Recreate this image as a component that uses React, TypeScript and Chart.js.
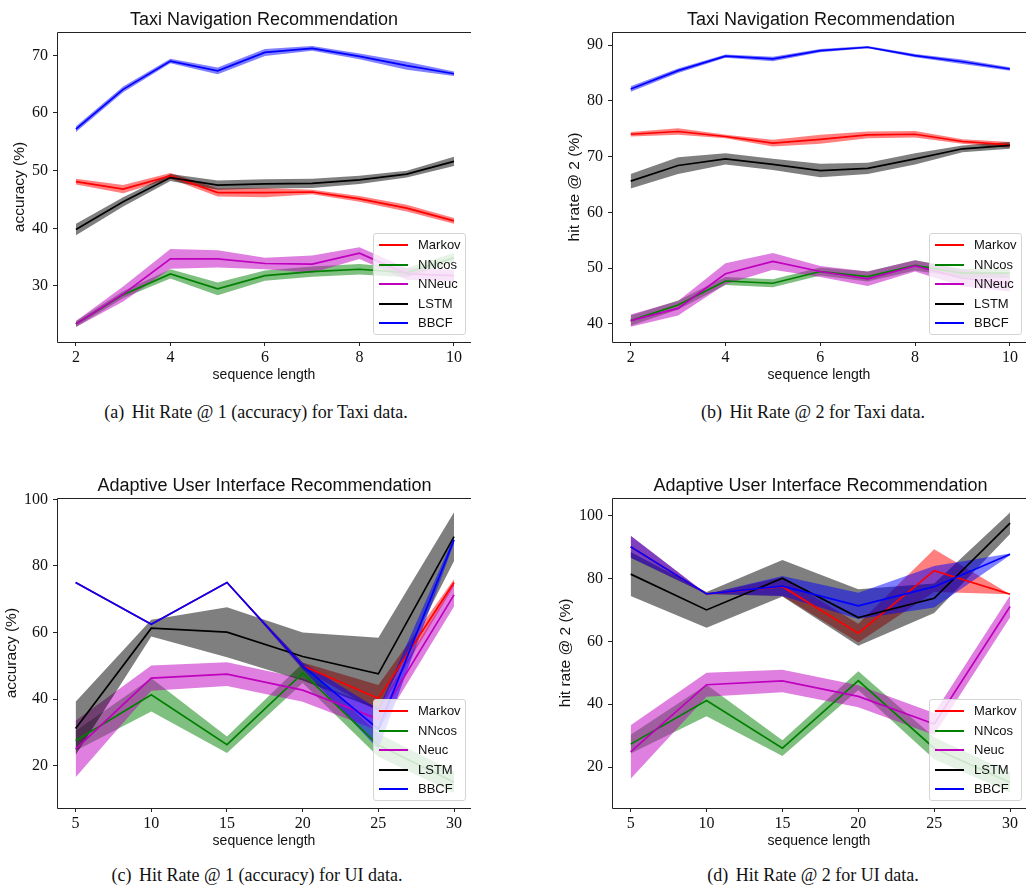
import React, { useEffect, useRef } from "react";
import { Chart, registerables } from "chart.js";
Chart.register(...registerables);

// ---------------- data ----------------
const taxiLengths = [2, 3, 4, 5, 6, 7, 8, 9, 10];
const uiLengths = [5, 10, 15, 20, 25, 30];

const taxiTicksX = [2, 4, 6, 8, 10];
const uiTicksX = [5, 10, 15, 20, 25, 30];
const taxiAccTicksY = [30, 40, 50, 60, 70];
const taxiHr2TicksY = [40, 50, 60, 70, 80, 90];
const uiTicksY = [20, 40, 60, 80, 100];

const taxiLabels = ["Markov", "NNcos", "NNeuc", "LSTM", "BBCF"];
const uiLabels = ["Markov", "NNcos", "Neuc", "LSTM", "BBCF"];

// (a) Taxi, hit rate @ 1 (accuracy)
const taxiAccMarkov = [48.1, 46.8, 49.1, 46.2, 46.2, 46.3, 45.1, 43.5, 41.3];
const taxiAccMarkovStd = [0.5, 0.7, 0.5, 0.7, 0.8, 0.4, 0.5, 0.6, 0.5];
const taxiAccNNcos = [23.4, 28.5, 32.1, 29.5, 31.8, 32.5, 32.9, 32.3, 34.9];
const taxiAccNNcosStd = [0.5, 0.6, 0.8, 1.1, 0.9, 0.9, 0.9, 0.8, 0.8];
const taxiAccNNeuc = [23.4, 28.6, 34.7, 34.7, 33.9, 33.8, 35.7, 32.1, 31.8];
const taxiAccNNeucStd = [0.5, 1.3, 1.7, 1.5, 1.0, 1.5, 1.0, 1.0, 1.0];
const taxiAccLSTM = [39.8, 44.6, 48.8, 47.5, 47.7, 47.8, 48.4, 49.4, 51.6];
const taxiAccLSTMStd = [1.0, 0.8, 0.6, 0.8, 0.8, 0.8, 0.7, 0.6, 0.8];
const taxiAccBBCF = [57.2, 64.1, 69.0, 67.3, 70.5, 71.2, 69.8, 68.2, 66.8];
const taxiAccBBCFStd = [0.5, 0.5, 0.4, 0.6, 0.6, 0.4, 0.5, 0.7, 0.4];

// (b) Taxi, hit rate @ 2
const taxiHr2Markov = [74.0, 74.5, 73.6, 72.4, 73.1, 73.9, 74.0, 72.7, 72.1];
const taxiHr2MarkovStd = [0.4, 0.6, 0.3, 0.6, 0.8, 0.6, 0.6, 0.4, 0.5];
const taxiHr2NNcos = [40.6, 43.4, 47.7, 47.3, 49.4, 48.5, 50.5, 49.1, 49.1];
const taxiHr2NNcosStd = [0.9, 0.8, 0.7, 0.7, 0.7, 0.9, 0.9, 0.8, 0.8];
const taxiHr2NNeuc = [40.6, 42.8, 49.0, 51.2, 49.4, 48.1, 50.4, 48.2, 47.3];
const taxiHr2NNeucStd = [1.1, 1.3, 1.9, 1.5, 1.0, 1.3, 1.0, 1.5, 1.5];
const taxiHr2LSTM = [65.6, 68.4, 69.6, 68.6, 67.5, 67.9, 69.6, 71.4, 72.0];
const taxiHr2LSTMStd = [1.3, 1.5, 1.0, 1.0, 1.2, 1.0, 1.0, 0.6, 0.6];
const taxiHr2BBCF = [82.1, 85.4, 88.0, 87.5, 89.0, 89.6, 88.1, 87.0, 85.7];
const taxiHr2BBCFStd = [0.5, 0.4, 0.3, 0.4, 0.3, 0.2, 0.3, 0.4, 0.3];

// (c) UI, hit rate @ 1 (accuracy)
const uiAccMarkov = [75.0, 62.5, 75.0, 50.0, 40.2, 75.0];
const uiAccMarkovStd = [0, 0, 0, 1.0, 4.0, 1.0];
const uiAccNNcos = [27.5, 41.3, 26.3, 47.8, 26.2, 15.0];
const uiAccNNcosStd = [3.0, 5.0, 2.5, 3.0, 3.5, 3.2];
const uiAccNeuc = [25.0, 46.3, 47.5, 42.7, 34.0, 71.3];
const uiAccNeucStd = [8.5, 3.8, 3.6, 3.5, 3.5, 3.5];
const uiAccLSTM = [31.2, 61.3, 60.1, 52.8, 47.6, 88.8];
const uiAccLSTMStd = [8.0, 2.5, 7.5, 7.2, 10.8, 7.3];
const uiAccBBCF = [75.0, 62.5, 75.0, 50.0, 31.0, 87.8];
const uiAccBBCFStd = [0, 0, 0, 1.0, 6.0, 1.0];

// (d) UI, hit rate @ 2
const uiHr2Markov = [90.1, 75.1, 77.4, 62.6, 82.5, 75.0];
const uiHr2MarkovStd = [3.5, 0, 3.0, 3.0, 6.8, 0];
const uiHr2NNcos = [27.3, 41.2, 26.0, 47.5, 26.0, 15.1];
const uiHr2NNcosStd = [3.0, 5.0, 2.5, 3.0, 3.5, 3.2];
const uiHr2Neuc = [24.8, 46.2, 47.4, 42.5, 33.7, 71.1];
const uiHr2NeucStd = [8.5, 3.8, 3.6, 3.5, 3.5, 3.5];
const uiHr2LSTM = [81.4, 70.0, 80.1, 67.6, 73.7, 97.6];
const uiHr2LSTMStd = [7.0, 5.7, 5.8, 9.0, 4.7, 3.4];
const uiHr2BBCF = [90.1, 75.1, 77.6, 71.3, 77.4, 87.7];
const uiHr2BBCFStd = [3.5, 0, 3.2, 4.2, 6.6, 0.3];

// ---------------- styling ----------------
const lineColors = ["#ff0000", "#008000", "#bf00bf", "#000000", "#0000ff"];
const bandColors = [
  "rgba(255,0,0,0.5)",
  "rgba(0,128,0,0.5)",
  "rgba(191,0,191,0.5)",
  "rgba(0,0,0,0.5)",
  "rgba(0,0,255,0.5)",
];

const SANS = "'Liberation Sans', Arial, sans-serif";
const SERIF = "'Liberation Serif', 'Times New Roman', serif";

type PanelCfg = {
  left: number;
  top: number;
  width: number;
  height: number;
  areaLeft: number;
  areaTop: number;
  xAxisH: number;
  yTitleCenter: number;
  xMin: number;
  xMax: number;
  yMin: number;
  yMax: number;
  xTicks: number[];
  yTicks: number[];
  yTitle: string;
  xs: number[];
  means: number[][];
  stds: number[][];
  labels: string[];
  title: string;
  titleCx: number;
  titleTop: number;
  legendLeft: number;
  legendTop: number;
  caption: string;
  captionLabel: string;
  captionCx: number;
  captionTop: number;
};

const panels: PanelCfg[] = [
  {
    left: 0, top: 0, width: 471, height: 388, areaLeft: 57, areaTop: 32, xAxisH: 46, yTitleCenter: 20,
    xMin: 1.6, xMax: 10.36, yMin: 20.29, yMax: 74.04,
    xTicks: taxiTicksX, yTicks: taxiAccTicksY, yTitle: "accuracy (%)",
    xs: taxiLengths,
    means: [taxiAccMarkov, taxiAccNNcos, taxiAccNNeuc, taxiAccLSTM, taxiAccBBCF],
    stds: [taxiAccMarkovStd, taxiAccNNcosStd, taxiAccNNeucStd, taxiAccLSTMStd, taxiAccBBCFStd],
    labels: taxiLabels,
    title: "Taxi Navigation Recommendation", titleCx: 264, titleTop: 10,
    legendLeft: 373, legendTop: 233,
    captionLabel: "(a)", caption: "Hit Rate @ 1 (accuracy) for Taxi data.", captionCx: 256, captionTop: 403,
  },
  {
    left: 520, top: 0, width: 506, height: 388, areaLeft: 92, areaTop: 32, xAxisH: 46, yTitleCenter: 55,
    xMin: 1.606, xMax: 10.34, yMin: 36.77, yMax: 92.33,
    xTicks: taxiTicksX, yTicks: taxiHr2TicksY, yTitle: "hit rate @ 2 (%)",
    xs: taxiLengths,
    means: [taxiHr2Markov, taxiHr2NNcos, taxiHr2NNeuc, taxiHr2LSTM, taxiHr2BBCF],
    stds: [taxiHr2MarkovStd, taxiHr2NNcosStd, taxiHr2NNeucStd, taxiHr2LSTMStd, taxiHr2BBCFStd],
    labels: taxiLabels,
    title: "Taxi Navigation Recommendation", titleCx: 821, titleTop: 10,
    legendLeft: 929, legendTop: 233,
    captionLabel: "(b)", caption: "Hit Rate @ 2 for Taxi data.", captionCx: 813, captionTop: 403,
  },
  {
    left: 0, top: 460, width: 471, height: 394, areaLeft: 57, areaTop: 38.3, xAxisH: 46, yTitleCenter: 12,
    xMin: 3.77, xMax: 31.12, yMin: 7.3, yMax: 100.3,
    xTicks: uiTicksX, yTicks: uiTicksY, yTitle: "accuracy (%)",
    xs: uiLengths,
    means: [uiAccMarkov, uiAccNNcos, uiAccNeuc, uiAccLSTM, uiAccBBCF],
    stds: [uiAccMarkovStd, uiAccNNcosStd, uiAccNeucStd, uiAccLSTMStd, uiAccBBCFStd],
    labels: uiLabels,
    title: "Adaptive User Interface Recommendation", titleCx: 264.5, titleTop: 476,
    legendLeft: 373, legendTop: 699,
    captionLabel: "(c)", caption: "Hit Rate @ 1 (accuracy) for UI data.", captionCx: 257, captionTop: 866,
  },
  {
    left: 520, top: 460, width: 506, height: 394, areaLeft: 92, areaTop: 37.7, xAxisH: 46, yTitleCenter: 46,
    xMin: 3.77, xMax: 31.05, yMin: 6.97, yMax: 105.72,
    xTicks: uiTicksX, yTicks: uiTicksY, yTitle: "hit rate @ 2 (%)",
    xs: uiLengths,
    means: [uiHr2Markov, uiHr2NNcos, uiHr2Neuc, uiHr2LSTM, uiHr2BBCF],
    stds: [uiHr2MarkovStd, uiHr2NNcosStd, uiHr2NeucStd, uiHr2LSTMStd, uiHr2BBCFStd],
    labels: uiLabels,
    title: "Adaptive User Interface Recommendation", titleCx: 820.5, titleTop: 476,
    legendLeft: 929, legendTop: 699,
    captionLabel: "(d)", caption: "Hit Rate @ 2 for UI data.", captionCx: 813, captionTop: 866,
  },
];

const framePlugin = {
  id: "frame",
  afterDraw(chart: any) {
    const { ctx, chartArea } = chart;
    const l = Math.round(chartArea.left) + 0.5;
    const t = Math.round(chartArea.top) + 0.5;
    const b = Math.round(chartArea.bottom) + 0.5;
    const r = chartArea.right;
    ctx.save();
    ctx.strokeStyle = "#222";
    ctx.lineWidth = 1;
    ctx.beginPath();
    ctx.moveTo(r, t);
    ctx.lineTo(l, t);
    ctx.lineTo(l, b);
    ctx.lineTo(r, b);
    ctx.stroke();
    ctx.restore();
  },
};

function buildDatasets(cfg: PanelCfg) {
  const bands: any[] = [];
  const lines: any[] = [];
  cfg.means.forEach((vals, i) => {
    const sd = cfg.stds[i];
    bands.push({
      label: cfg.labels[i] + " upper",
      data: cfg.xs.map((x, k) => ({ x, y: vals[k] + sd[k] })),
      borderColor: "transparent",
      borderWidth: 0,
      pointRadius: 0,
      fill: false,
      tension: 0,
      order: 20 - i,
    });
    bands.push({
      label: cfg.labels[i] + " lower",
      data: cfg.xs.map((x, k) => ({ x, y: vals[k] - sd[k] })),
      borderColor: "transparent",
      borderWidth: 0,
      pointRadius: 0,
      backgroundColor: bandColors[i],
      fill: "-1",
      tension: 0,
      order: 20 - i,
    });
    lines.push({
      label: cfg.labels[i],
      data: cfg.xs.map((x, k) => ({ x, y: vals[k] })),
      borderColor: lineColors[i],
      borderWidth: 1.7,
      pointRadius: 0,
      fill: false,
      tension: 0,
      order: 10 - i,
    });
  });
  return [...bands, ...lines];
}

function Panel({ cfg }: { cfg: PanelCfg }) {
  const ref = useRef<HTMLCanvasElement>(null);
  useEffect(() => {
    const xTitleSize = 14;
    const yTitleSize = 15.5;
    const chart = new Chart(ref.current as HTMLCanvasElement, {
      type: "line",
      data: { datasets: buildDatasets(cfg) },
      options: {
        animation: false,
        responsive: false,
        maintainAspectRatio: false,
        devicePixelRatio: 1,
        layout: { padding: { top: cfg.areaTop, left: 0, right: 0, bottom: 0 } },
        plugins: {
          legend: { display: false },
          tooltip: { enabled: false },
          title: { display: false },
        },
        scales: {
          x: {
            type: "linear",
            min: cfg.xMin,
            max: cfg.xMax,
            afterBuildTicks: (s: any) => {
              s.ticks = cfg.xTicks.map((v) => ({ value: v }));
            },
            afterFit: (s: any) => {
              s.height = cfg.xAxisH;
            },
            border: { display: false },
            grid: { drawOnChartArea: false, drawTicks: true, tickLength: 4, color: "#222", lineWidth: 1 },
            ticks: {
              autoSkip: false,
              maxRotation: 0,
              padding: 2,
              color: "#111",
              font: { family: SERIF, size: 16 },
              callback: (v: any) => String(v),
            },
            title: {
              display: true,
              text: "sequence length",
              color: "#111",
              font: { family: SANS, size: xTitleSize },
              padding: { top: 0, bottom: 4 },
            },
          },
          y: {
            type: "linear",
            min: cfg.yMin,
            max: cfg.yMax,
            afterBuildTicks: (s: any) => {
              s.ticks = cfg.yTicks.map((v) => ({ value: v }));
            },
            afterFit: (s: any) => {
              s.width = cfg.areaLeft;
            },
            border: { display: false },
            grid: { drawOnChartArea: false, drawTicks: true, tickLength: 4, color: "#222", lineWidth: 1 },
            ticks: {
              autoSkip: false,
              padding: 5,
              color: "#111",
              font: { family: SERIF, size: 16 },
              callback: (v: any) => String(v),
            },
            title: {
              display: true,
              text: cfg.yTitle,
              color: "#111",
              font: { family: SANS, size: yTitleSize },
              padding: { top: cfg.yTitleCenter - (yTitleSize * 1.2) / 2, bottom: 0 },
            },
          },
        },
      } as any,
      plugins: [framePlugin],
    });
    return () => chart.destroy();
  }, [cfg]);

  return (
    <>
      <canvas
        ref={ref}
        width={cfg.width}
        height={cfg.height}
        style={{ position: "absolute", left: cfg.left, top: cfg.top, width: cfg.width, height: cfg.height }}
      />
      <div
        style={{
          position: "absolute",
          left: cfg.titleCx,
          top: cfg.titleTop,
          transform: "translateX(-50%)",
          whiteSpace: "nowrap",
          fontFamily: SANS,
          fontSize: 18,
          lineHeight: "18px",
          color: "#111",
        }}
      >
        {cfg.title}
      </div>
      <div
        style={{
          position: "absolute",
          left: cfg.legendLeft,
          top: cfg.legendTop,
          width: 93,
          height: 102,
          boxSizing: "border-box",
          border: "1px solid #d4d4d4",
          borderRadius: 3,
          background: "rgba(255,255,255,0.8)",
        }}
      >
        {cfg.labels.map((lab, i) => (
          <div
            key={lab}
            style={{
              position: "absolute",
              left: 5,
              top: 1 + i * 19.6,
              height: 20,
              display: "flex",
              alignItems: "center",
            }}
          >
            <div style={{ width: 29, height: 2, background: lineColors[i] }} />
            <span
              style={{
                marginLeft: 10,
                fontFamily: SANS,
                fontSize: 13,
                lineHeight: "20px",
                color: "#111",
                whiteSpace: "nowrap",
              }}
            >
              {lab}
            </span>
          </div>
        ))}
      </div>
      <div
        style={{
          position: "absolute",
          left: cfg.captionCx,
          top: cfg.captionTop,
          transform: "translateX(-50%)",
          whiteSpace: "nowrap",
          fontFamily: SERIF,
          fontSize: 18,
          lineHeight: "18px",
          color: "#111",
        }}
      >
        <span style={{ marginRight: 3 }}>{cfg.captionLabel}</span> {cfg.caption}
      </div>
    </>
  );
}

export default function App() {
  return (
    <div
      style={{
        position: "absolute",
        left: 0,
        top: 0,
        width: 1026,
        height: 888,
        background: "#fff",
        overflow: "hidden",
      }}
    >
      {panels.map((p) => (
        <Panel key={p.captionLabel} cfg={p} />
      ))}
    </div>
  );
}
